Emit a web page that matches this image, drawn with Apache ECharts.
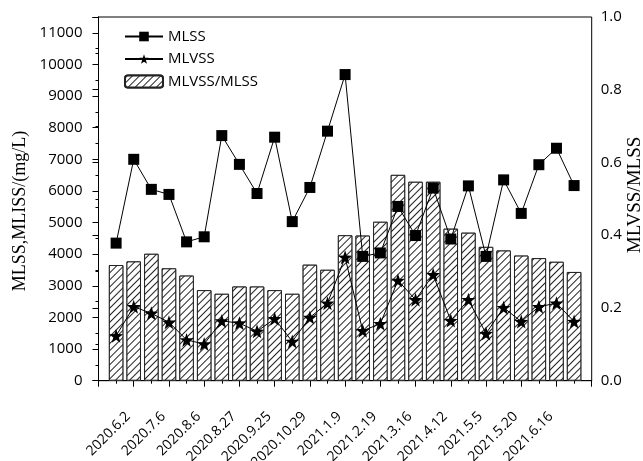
<!DOCTYPE html>
<html>
<head>
<meta charset="utf-8">
<script src="https://cdn.jsdelivr.net/npm/echarts@6/dist/echarts.min.js"></script>
<style>
html,body{margin:0;padding:0;background:#fff;}
#c{width:643px;height:461px;}
</style>
</head>
<body>
<div id="c"></div>
<script>
// sample index (x position of each sampling date)
var samples = [1,2,3,4,5,6,7,8,9,10,11,12,13,14,15,16,17,18,19,20,21,22,23,24,25,26,27];
// MLSS (mg/L)
var mlss = [4350,7000,6050,5890,4390,4550,7750,6840,5920,7700,5030,6110,7890,9680,3930,4040,5510,4590,6090,4480,6160,3930,6350,5290,6830,7350,6170];
// MLVSS (mg/L)
var mlvss = [1420,2340,2130,1850,1290,1160,1890,1820,1560,1960,1240,2000,2450,3900,1580,1800,3170,2560,3350,1900,2560,1490,2310,1870,2340,2450,1870];
// MLVSS/MLSS ratio
var ratio = [0.318,0.328,0.349,0.309,0.289,0.249,0.239,0.259,0.259,0.249,0.239,0.319,0.305,0.400,0.399,0.437,0.566,0.547,0.547,0.418,0.407,0.368,0.358,0.344,0.337,0.327,0.299];
// tick labels at positions 2,4,...,26
var tickLabels = ['2020.6.2','2020.7.6','2020.8.6','2020.8.27','2020.9.25','2020.10.29','2021.1.9','2021.2.19','2021.3.16','2021.4.12','2021.5.5','2021.5.20','2021.6.16'];

var sans = '"Open Sans", "Noto Sans", sans-serif';
var serif = '"Liberation Serif", "DejaVu Serif", serif';
var star = 'path://M0,-10 L2.35,-3.24 L9.51,-3.09 L3.8,1.24 L5.88,8.09 L0,4 L-5.88,8.09 L-3.8,1.24 L-9.51,-3.09 L-2.35,-3.24 Z';

function pairs(ys){ return samples.map(function(x,i){ return [x, ys[i]]; }); }

var chart = echarts.init(document.getElementById('c'), null, {renderer:'canvas'});
chart.setOption({
  animation: false,
  backgroundColor: '#fff',
  grid: {left: 98.5, right: 51.3, top: 17, bottom: 80.3, outerBoundsMode: 'none', containLabel: false,
         show: true, borderColor: '#000', borderWidth: 1, backgroundColor: 'transparent'},
  legend: {
    orient: 'vertical', left: 124, top: 29, padding: 0, itemWidth: 38, itemHeight: 12, itemGap: 7.5,
    textStyle: {fontFamily: sans, fontSize: 15, color: '#000'},
    data: ['MLSS','MLVSS','MLVSS/MLSS']
  },
  xAxis: [
    {type: 'value', position: 'bottom', min: 0, max: 28, interval: 1,
     axisLine: {show: true, lineStyle: {color: '#000', width: 1}},
     axisTick: {show: true, length: 3, lineStyle: {color: '#000'}},
     axisLabel: {show: false}, splitLine: {show: false}},
    {type: 'value', position: 'bottom', min: 0, max: 28, interval: 2,
     axisLine: {show: false},
     axisTick: {show: true, length: 6, lineStyle: {color: '#000'}},
     axisLabel: {show: true, rotate: 45, margin: 28, padding: [0, 8, 0, 0],
       fontFamily: sans, fontSize: 14, color: '#000',
       formatter: function(v){ return (v % 2 === 0 && v >= 2 && v <= 26) ? tickLabels[v/2 - 1] : ''; }},
     splitLine: {show: false}}
  ],
  yAxis: [
    {type: 'value', position: 'left', min: 0, max: 11500, interval: 1000,
     axisLine: {show: true, lineStyle: {color: '#000', width: 1}},
     axisTick: {show: true, length: 6, lineStyle: {color: '#000'}},
     minorTick: {show: true, splitNumber: 2, length: 3, lineStyle: {color: '#000'}},
     axisLabel: {margin: 16, fontFamily: sans, fontSize: 15, color: '#000', showMaxLabel: false,
       formatter: function(v){ return v % 1000 === 0 ? String(v) : ''; }},
     splitLine: {show: false}},
    {type: 'value', position: 'right', min: 0, max: 1, interval: 0.2,
     axisLine: {show: true, lineStyle: {color: '#000', width: 1}},
     axisTick: {show: true, inside: true, length: 6, lineStyle: {color: '#000'}},
     minorTick: {show: true, splitNumber: 2, length: 3, lineStyle: {color: '#000'}},
     axisLabel: {margin: 9, fontFamily: sans, fontSize: 15, color: '#000',
       formatter: function(v){ return v.toFixed(1); }},
     splitLine: {show: false}}
  ],
  graphic: [
    {type: 'text', x: 20, y: 211, rotation: Math.PI/2,
     style: {text: 'MLSS,MLISS/(mg/L)', font: '18px ' + serif, fill: '#000', align: 'center', verticalAlign: 'middle'}},
    {type: 'text', x: 635, y: 195, rotation: Math.PI/2,
     style: {text: 'MLVSS/MLSS', font: '19px ' + serif, fill: '#000', align: 'center', verticalAlign: 'middle'}}
  ],
  series: [
    {name: 'MLVSS/MLSS', type: 'bar', xAxisIndex: 0, yAxisIndex: 1, barWidth: 14.5, z: 1,
     itemStyle: {color: '#fff', borderColor: '#222', borderWidth: 1,
       decal: {symbol: 'rect', symbolSize: 1, dashArrayX: [1, 0], dashArrayY: [1, 3.5], rotation: -Math.PI/4, color: '#222', backgroundColor: '#fff'}},
     data: pairs(ratio)},
    {name: 'MLSS', type: 'line', xAxisIndex: 0, yAxisIndex: 0, z: 3,
     symbol: 'rect', symbolSize: 11, showAllSymbol: true,
     lineStyle: {color: '#000', width: 1}, itemStyle: {color: '#000'},
     data: pairs(mlss)},
    {name: 'MLVSS', type: 'line', xAxisIndex: 0, yAxisIndex: 0, z: 3,
     symbol: star, symbolSize: 14, showAllSymbol: true,
     lineStyle: {color: '#000', width: 1}, itemStyle: {color: '#000'},
     data: pairs(mlvss)}
  ]
});
</script>
</body>
</html>
